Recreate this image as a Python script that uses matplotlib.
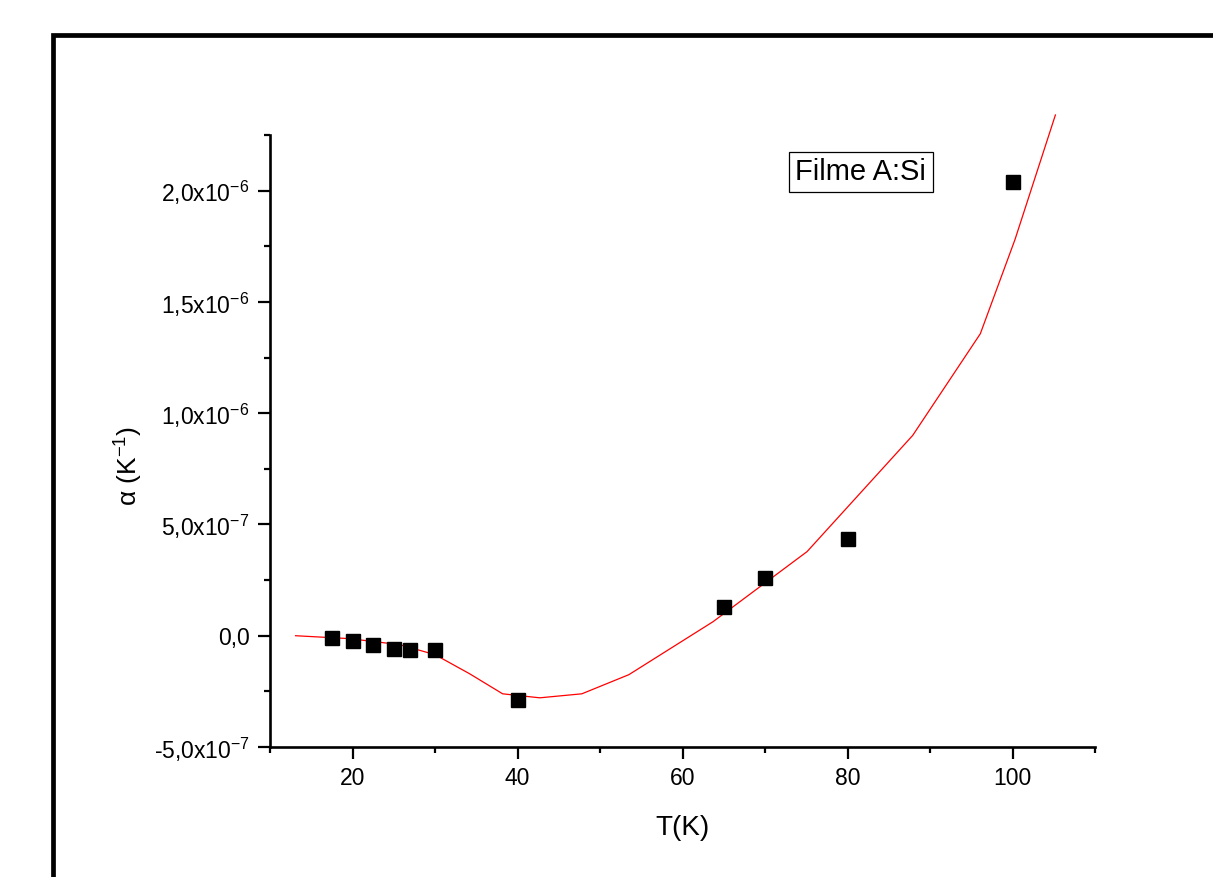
import numpy as np
import matplotlib
matplotlib.use("Agg")
import matplotlib.pyplot as plt
from matplotlib.patches import Rectangle
from matplotlib.ticker import FixedLocator, MultipleLocator, FixedFormatter

plt.rcParams['font.family'] = ['Liberation Sans', 'DejaVu Sans']
plt.rcParams['mathtext.fontset'] = 'custom'
plt.rcParams['mathtext.rm'] = 'Liberation Sans'
plt.rcParams['mathtext.it'] = 'Liberation Sans:italic'
plt.rcParams['mathtext.default'] = 'regular'

# measured points
T_data = [17.5, 20, 22.5, 25, 27, 30, 40, 65, 70, 80, 100]
alpha_data = [-0.9e-8, -2.2e-8, -4.0e-8, -5.8e-8, -6.3e-8, -6.3e-8,
              -2.88e-7, 1.3e-7, 2.6e-7, 4.36e-7, 2.04e-6]

# fitted curve
T_fit = [13.1, 19.6, 25.7, 30.0, 34.2, 38.2, 42.7, 47.8, 53.5,
         63.7, 75.1, 87.9, 96.1, 100.3, 105.2]
alpha_fit = [0.0, -1.3e-8, -4.0e-8, -8.5e-8, -1.71e-7, -2.61e-7, -2.79e-7,
             -2.61e-7, -1.75e-7, 6.3e-8, 3.78e-7, 9.0e-7, 1.357e-6,
             1.78e-6, 2.34e-6]

y_ticks = [-5e-7, 0, 5e-7, 1e-6, 1.5e-6, 2e-6]
y_labels = [r'-5,0x10$^{-7}$', '0,0', r'5,0x10$^{-7}$', r'1,0x10$^{-6}$',
            r'1,5x10$^{-6}$', r'2,0x10$^{-6}$']

fig = plt.figure(figsize=(12.13, 8.77), dpi=100)
ax = fig.add_axes([270/1213, 1 - 747/877, 825/1213, 612/877])

ax.plot(T_fit, alpha_fit, color='red', lw=0.9, clip_on=False)
ax.plot(T_data, alpha_data, 's', color='black', ms=9.5, ls='none')

ax.set_xlim(10, 110)
ax.set_ylim(-5e-7, 2.25e-6)
ax.xaxis.set_major_locator(FixedLocator([20, 40, 60, 80, 100]))
ax.xaxis.set_minor_locator(MultipleLocator(10))
ax.yaxis.set_major_locator(FixedLocator(y_ticks))
ax.yaxis.set_major_formatter(FixedFormatter(y_labels))
ax.yaxis.set_minor_locator(MultipleLocator(2.5e-7))

for s in ['top', 'right']:
    ax.spines[s].set_visible(False)
for s in ['left', 'bottom']:
    ax.spines[s].set_linewidth(1.9)
ax.tick_params(which='major', direction='out', length=8.5, width=1.6,
               labelsize=16.5, pad=6)
ax.tick_params(which='minor', direction='out', length=4.5, width=1.6)

ax.set_xlabel('T(K)', fontsize=20, labelpad=18)
ax.set_ylabel(r'α (K$^{-1}$)', fontsize=19)
ax.yaxis.set_label_coords(-0.152, 0.46)

ax.text(0.716, 0.9395, 'Filme A:Si', transform=ax.transAxes, fontsize=21,
        ha='center', va='center',
        bbox=dict(boxstyle='square,pad=0.22', fc='white', ec='black', lw=0.9))

# thick outer frame, running off the right and bottom edges
fig.patches.append(Rectangle((53/1213, -0.2), 2, (877 - 35)/877 + 0.2,
                             transform=fig.transFigure, fill=False,
                             ec='black', lw=3.4))

fig.savefig('out.png', dpi=100)
